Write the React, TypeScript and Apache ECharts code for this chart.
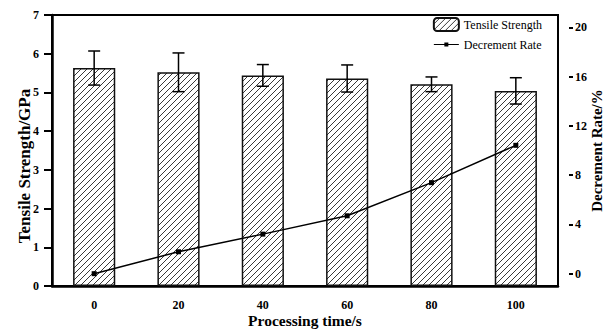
import React, { useEffect, useRef } from "react";
import * as echarts from "echarts";

const categories = ["0", "20", "40", "60", "80", "100"];
const tensileStrength = [5.63, 5.52, 5.44, 5.36, 5.21, 5.04];
const tensileError = [0.44, 0.5, 0.28, 0.35, 0.19, 0.34];
const decrementRate = [0, 1.78, 3.21, 4.7, 7.39, 10.42];
const rightTicks = [0, 4, 8, 12, 16, 20];

const FONT = "'Liberation Serif', 'Times New Roman', serif";

const hatchSvg =
  "data:image/svg+xml;charset=utf-8," +
  encodeURIComponent(
    '<svg xmlns="http://www.w3.org/2000/svg" width="6" height="6"><rect width="6" height="6" fill="#fff"/><path d="M-1,7 L7,-1 M-1,1 L1,-1 M5,7 L7,5" stroke="#222" stroke-width="0.9"/></svg>'
  );

const lineLegendIcon = "path://M0,0 M25,13 M0,6.1H25V7.1H0Z M10.5,4.6H14.5V8.6H10.5Z";

export default function App() {
  const ref = useRef<HTMLDivElement>(null);
  useEffect(() => {
    if (!ref.current) return;
    const chart = echarts.init(ref.current, null, { renderer: "svg" });
    const pattern: any = {
      image: hatchSvg,
      repeat: "repeat",
      imageWidth: 6,
      imageHeight: 6,
    };
    const errData = tensileStrength.map((v, i) => [i, v - tensileError[i], v + tensileError[i]]);
    chart.setOption({
      animation: false,
      textStyle: { fontFamily: FONT },
      grid: {
        left: 52,
        right: 53,
        top: 15,
        bottom: 45,
        containLabel: false,
        outerBoundsMode: "none",
        show: true,
        borderColor: "#000",
        borderWidth: 2,
        backgroundColor: "transparent",
      },
      legend: {
        orient: "vertical",
        right: 64,
        top: 12,
        itemWidth: 25,
        itemHeight: 13,
        itemGap: 6,
        textStyle: { fontFamily: FONT, fontSize: 12, color: "#000" },
        data: [
          { name: "Tensile Strength", textStyle: { fontFamily: FONT, fontSize: 12, color: "#000" } },
          {
            name: "Decrement Rate",
            icon: lineLegendIcon,
            textStyle: { fontFamily: FONT, fontSize: 12, color: "#000" },
          },
        ],
      },
      graphic: [
        {
          type: "text",
          x: 24,
          y: 166,
          rotation: Math.PI / 2,
          style: {
            text: "Tensile Strength/GPa",
            fontFamily: FONT,
            fontSize: 17,
            fontWeight: "bold",
            fill: "#000",
            align: "center",
            verticalAlign: "middle",
          },
        },
      ],
      xAxis: {
        type: "category",
        data: categories,
        boundaryGap: true,
        name: "Processing time/s",
        nameLocation: "middle",
        nameGap: 26,
        nameMoveOverlap: false,
        nameTextStyle: { fontFamily: FONT, fontSize: 15.5, fontWeight: "bold", color: "#000" },
        axisLine: { lineStyle: { color: "#000", width: 2.5 } },
        axisTick: { alignWithLabel: true, length: 7, lineStyle: { color: "#000", width: 2.5 } },
        axisLabel: { fontFamily: FONT, fontSize: 12, fontWeight: "bold", color: "#000", margin: 13 },
      },
      yAxis: [
        {
          type: "value",
          min: 0,
          max: 7,
          interval: 1,
          axisLine: { show: true, lineStyle: { color: "#000", width: 2.5 } },
          axisTick: { show: true, length: 8, lineStyle: { color: "#000", width: 2 } },
          axisLabel: { fontFamily: FONT, fontSize: 12, fontWeight: "bold", color: "#000", margin: 13 },
          splitLine: { show: false },
        },
        {
          type: "value",
          position: "right",
          min: -1,
          max: 21,
          offset: 11,
          name: "Decrement Rate/%",
          nameLocation: "middle",
          nameGap: 20,
          nameRotate: 90,
          nameMoveOverlap: false,
          nameTextStyle: { fontFamily: FONT, fontSize: 15, fontWeight: "bold", color: "#000" },
          axisLine: { show: false },
          axisTick: {
            show: true,
            length: 4,
            customValues: rightTicks,
            lineStyle: { color: "#000", width: 2 },
          },
          axisLabel: {
            fontFamily: FONT,
            fontSize: 12,
            fontWeight: "bold",
            color: "#000",
            margin: 6,
            customValues: rightTicks,
          },
          splitLine: { show: false },
        },
      ],
      series: [
        {
          name: "Tensile Strength",
          type: "bar",
          data: tensileStrength,
          barWidth: "50%",
          itemStyle: { color: pattern, borderColor: "#111", borderWidth: 1.5 },
          z: 2,
        },
        {
          name: "Tensile Error",
          type: "custom",
          data: errData,
          z: 3,
          renderItem: (params: any, api: any) => {
            const x = api.value(0);
            const lo = api.coord([x, api.value(1)]);
            const hi = api.coord([x, api.value(2)]);
            const hw = 6;
            const style = { stroke: "#000", lineWidth: 1.5 };
            return {
              type: "group",
              children: [
                { type: "line", shape: { x1: hi[0], y1: hi[1], x2: lo[0], y2: lo[1] }, style },
                { type: "line", shape: { x1: hi[0] - hw, y1: hi[1], x2: hi[0] + hw, y2: hi[1] }, style },
                { type: "line", shape: { x1: lo[0] - hw, y1: lo[1], x2: lo[0] + hw, y2: lo[1] }, style },
              ],
            };
          },
        },
        {
          name: "Decrement Rate",
          type: "line",
          yAxisIndex: 1,
          data: decrementRate,
          symbol: "rect",
          symbolSize: 5,
          lineStyle: { color: "#000", width: 1.5 },
          itemStyle: { color: "#000" },
          z: 4,
        },
      ],
    });
    return () => chart.dispose();
  }, []);
  return (
    <div
      ref={ref}
      style={{ position: "fixed", left: 0, top: 0, width: 611, height: 331, background: "#fff" }}
    />
  );
}
